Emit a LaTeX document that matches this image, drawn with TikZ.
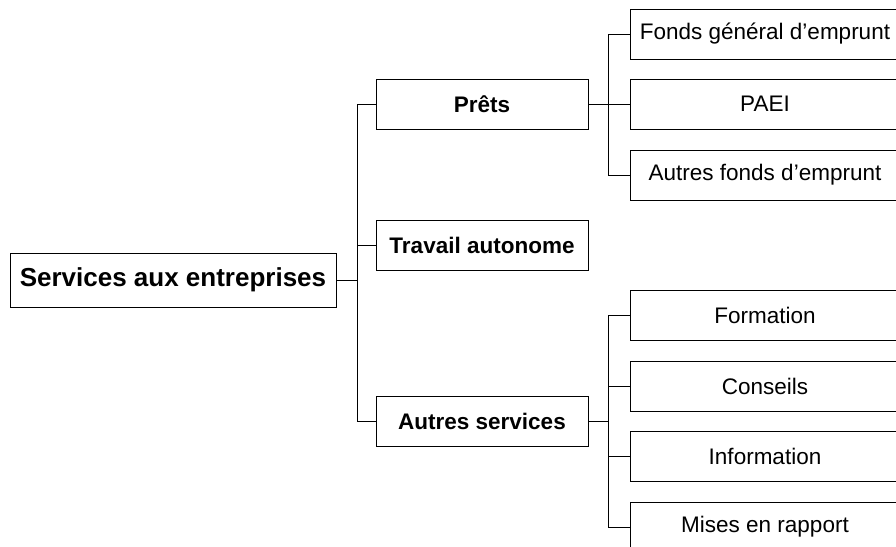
\documentclass[tikz,border=0pt]{standalone}
\usepackage{fontspec}
\setmainfont{Liberation Sans}
\begin{document}
\begin{tikzpicture}[x=1pt,y=-1pt,
  box/.style={draw=black,line width=1pt,rectangle,inner sep=0pt,align=center},
  rootbox/.style={box,minimum width=326pt,minimum height=54pt,font=\fontsize{26}{30}\selectfont\bfseries},
  midbox/.style={box,minimum width=212pt,minimum height=50pt,font=\fontsize{22.5}{27}\selectfont\bfseries},
  leafbox/.style={box,minimum width=270pt,minimum height=50pt,font=\fontsize{22.5}{27}\selectfont},
  link/.style={draw=black,line width=1pt}]
\useasboundingbox (0,0) rectangle (896,546);
\clip (0,0) rectangle (896,546);
\node[rootbox] (root) at (173,280) {Services aux entreprises};
\node[midbox] (prets) at (482,104) {Prêts};
\node[midbox] (trav) at (482,245) {Travail autonome};
\node[midbox] (autres) at (482,421) {Autres services};
\node[leafbox] (f1) at (765,34) {Fonds général d’emprunt};
\node[leafbox] (f2) at (765,104) {PAEI};
\node[leafbox] (f3) at (765,175) {Autres fonds d’emprunt};
\node[leafbox] (s1) at (765,315) {Formation};
\node[leafbox] (s2) at (765,386) {Conseils};
\node[leafbox] (s3) at (765,456) {Information};
\node[leafbox] (s4) at (765,527) {Mises en rapport};
\coordinate (j1) at (357,280);
\coordinate (j2) at (608,104);
\coordinate (j3) at (608,421);
\draw[link] (root.east) -- (j1);
\draw[link] (j1) |- (prets.west);
\draw[link] (j1) |- (trav.west);
\draw[link] (j1) |- (autres.west);
\draw[link] (prets.east) -- (j2);
\draw[link] (j2) |- (f1.west);
\draw[link] (j2) |- (f2.west);
\draw[link] (j2) |- (f3.west);
\draw[link] (autres.east) -- (j3);
\draw[link] (j3) |- (s1.west);
\draw[link] (j3) |- (s2.west);
\draw[link] (j3) |- (s3.west);
\draw[link] (j3) |- (s4.west);
\end{tikzpicture}
\end{document}
